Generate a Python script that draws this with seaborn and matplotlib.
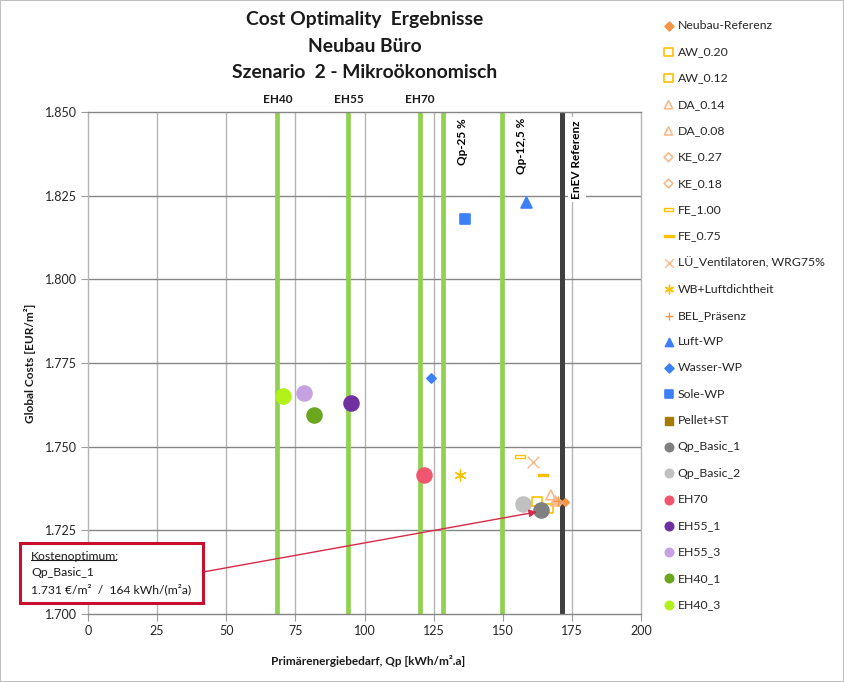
import matplotlib
matplotlib.use("Agg")
import numpy as np
import pandas as pd
import matplotlib.pyplot as plt
import seaborn as sns
from matplotlib.path import Path
from matplotlib.patches import Rectangle
from matplotlib.lines import Line2D
from matplotlib import transforms

# ---------------- data ----------------
series_names = ["Neubau-Referenz", "AW_0.20", "AW_0.12", "DA_0.14", "DA_0.08",
                "KE_0.27", "KE_0.18", "FE_1.00", "FE_0.75", "LÜ_Ventilatoren, WRG75%",
                "WB+Luftdichtheit", "BEL_Präsenz", "Luft-WP", "Wasser-WP", "Sole-WP",
                "Pellet+ST", "Qp_Basic_1", "Qp_Basic_2", "EH70", "EH55_1", "EH55_3",
                "EH40_1", "EH40_3"]
qp_values = [172.5, 162.4, 166.5, 167.4, 169.0, 169.5, 170.3, 156.2, 164.6, 160.9,
             134.7, 170.0, 158.4, 124.0, 136.3, np.nan, 163.8, 157.5, 121.5, 95.1,
             78.1, 81.7, 70.5]
cost_values = [1.7335, 1.7335, 1.7316, 1.7356, 1.7338, 1.7335, 1.7333, 1.7471, 1.7415,
               1.7454, 1.7415, 1.7338, 1.8232, 1.7706, 1.8180, np.nan, 1.7311, 1.7329,
               1.7415, 1.7631, 1.7661, 1.7596, 1.7650]

ref_labels = ["EH40", "EH55", "EH70", "Qp-25 %", "Qp-12,5 %", "EnEV Referenz"]
ref_qp = [68.5, 94.2, 119.9, 128.5, 149.9, 171.3]

x_ticks = [0, 25, 50, 75, 100, 125, 150, 175, 200]
y_ticks = [1.700, 1.725, 1.750, 1.775, 1.800, 1.825, 1.850]

df = pd.DataFrame({"name": series_names, "qp": qp_values, "cost": cost_values})

# ---------------- styles ----------------
def bar_path(h):
    return Path([(-1, -h), (1, -h), (1, h), (-1, h), (-1, -h)],
                [Path.MOVETO, Path.LINETO, Path.LINETO, Path.LINETO, Path.CLOSEPOLY])

bar_marker = bar_path(0.36)
thin_bar = bar_path(0.14)
GOLD = "#FFC000"
PEACH = "#F9B98A"
ORANGE = "#F79646"
BLUE = "#3D7FF7"
styles = {
    "Neubau-Referenz": dict(marker="D", fc=ORANGE, ec=ORANGE, s=14),
    "AW_0.20": dict(marker="s", fc="none", ec=GOLD, s=44),
    "AW_0.12": dict(marker="s", fc="none", ec=GOLD, s=44),
    "DA_0.14": dict(marker="^", fc="none", ec=PEACH, s=50),
    "DA_0.08": dict(marker="^", fc="none", ec=PEACH, s=50),
    "KE_0.27": dict(marker="D", fc="none", ec=PEACH, s=14),
    "KE_0.18": dict(marker="D", fc="none", ec=PEACH, s=14),
    "FE_1.00": dict(marker=bar_marker, fc="none", ec=GOLD, s=55),
    "FE_0.75": dict(marker=thin_bar, fc=GOLD, ec=GOLD, s=55),
    "LÜ_Ventilatoren, WRG75%": dict(marker="x", fc=PEACH, ec=PEACH, s=70),
    "WB+Luftdichtheit": dict(marker=(6, 2, 0), fc=GOLD, ec=GOLD, s=60),
    "BEL_Präsenz": dict(marker="+", fc=ORANGE, ec=ORANGE, s=50),
    "Luft-WP": dict(marker="^", fc=BLUE, ec=BLUE, s=62),
    "Wasser-WP": dict(marker="D", fc=BLUE, ec=BLUE, s=22),
    "Sole-WP": dict(marker="s", fc=BLUE, ec=BLUE, s=52),
    "Pellet+ST": dict(marker="s", fc="#A67C00", ec="#A67C00", s=52),
    "Qp_Basic_1": dict(marker="o", fc="#808080", ec="#808080", s=115),
    "Qp_Basic_2": dict(marker="o", fc="#C0C0C0", ec="#C0C0C0", s=115),
    "EH70": dict(marker="o", fc="#F0566E", ec="#F0566E", s=115),
    "EH55_1": dict(marker="o", fc="#7030A0", ec="#7030A0", s=115),
    "EH55_3": dict(marker="o", fc="#C6A2E2", ec="#C6A2E2", s=115),
    "EH40_1": dict(marker="o", fc="#6AA61E", ec="#6AA61E", s=115),
    "EH40_3": dict(marker="o", fc="#B2F21A", ec="#B2F21A", s=115),
}

# ---------------- figure ----------------
sns.set_theme(style="white")
plt.rcParams["font.family"] = ["Lato", "DejaVu Sans"]

W, H = 844, 682
fig = plt.figure(figsize=(W / 100, H / 100), dpi=100)
fig.patch.set_facecolor("white")
fig.patch.set_edgecolor("#BFBFBF")
fig.patch.set_linewidth(1.2)

L, R, T, B = 88, 641, 112, 614
ax = fig.add_axes([L / W, 1 - B / H, (R - L) / W, (B - T) / H])
ax.set_xlim(0, 200)
ax.set_ylim(1.700, 1.850)
ax.set_xticks(x_ticks)
ax.set_yticks(y_ticks)
ax.set_yticklabels([f"{v:.3f}" for v in y_ticks])
ax.tick_params(axis="both", labelsize=9, labelcolor="#262626", length=5,
               width=0.8, color="#9A9A9A", direction="out", pad=3)
ax.tick_params(axis="y", left=True)
ax.tick_params(axis="x", bottom=True)

# grid
for v in x_ticks[1:-1]:
    ax.axvline(v, color="#B5B5B5", lw=1.0, zorder=0.5)
for v in y_ticks[1:-1]:
    ax.axhline(v, color="#868686", lw=1.0, zorder=0.5)
for side, col in [("left", "#B5B5B5"), ("right", "#B5B5B5"),
                  ("top", "#868686"), ("bottom", "#868686")]:
    ax.spines[side].set_color(col)
    ax.spines[side].set_linewidth(1.0)
    ax.spines[side].set_visible(True)

# reference lines
for lab, xv in zip(ref_labels, ref_qp):
    if lab.startswith("EnEV"):
        ax.axvline(xv, color="#404040", lw=3.6, zorder=1.5)
    else:
        ax.axvline(xv, color="#92D050", lw=3.4, zorder=1.5)

trans = transforms.blended_transform_factory(ax.transData, ax.transAxes)
for lab, xv in zip(ref_labels, ref_qp):
    if lab.startswith("EH"):
        ax.text(xv, 1.024, lab, transform=trans, ha="center", va="center",
                fontsize=8.5, fontweight="bold", color="#1a1a1a")
    elif lab.startswith("Qp"):
        ax.text(xv + 6.9, 0.988, lab, transform=trans, ha="center", va="top",
                rotation=90, fontsize=8.5, fontweight="bold", color="black")
    else:
        ax.text(xv + 5.5, 0.984, lab, transform=trans, ha="center", va="top",
                rotation=90, fontsize=8.5, fontweight="bold", color="black",
                bbox=dict(facecolor="white", edgecolor="none", pad=2.5), zorder=2)

# points
for name in series_names:
    st = styles[name]
    sub = df[df["name"] == name].dropna()
    if sub.empty:
        ax.scatter([], [], marker=st["marker"], facecolor=st["fc"],
                   edgecolor=st["ec"], s=st["s"], label=name)
        continue
    unfilled = st["marker"] in ("x", "+") or isinstance(st["marker"], tuple)
    kw = dict(marker=st["marker"], s=st["s"], label=name, zorder=3, ax=ax)
    if unfilled:
        kw.update(color=st["ec"], linewidth=1.0)
    else:
        is_bar = isinstance(st["marker"], Path)
        kw.update(facecolor=st["fc"], edgecolor=st["ec"],
                  linewidth=1.0 if is_bar else 1.2)
    sns.scatterplot(data=sub, x="qp", y="cost", **kw)

ax.set_xlabel("Primärenergiebedarf, Qp [kWh/m².a]", fontsize=8.5,
              fontweight="bold", color="#1a1a1a")
ax.set_ylabel("Global Costs [EUR/m²]", fontsize=8.5, fontweight="bold",
              color="#1a1a1a")
ax.xaxis.set_label_coords((368 - L) / (R - L), (B - 655) / (B - T))
ax.yaxis.set_label_coords((36 - L) / (R - L), 0.5)

# legend
leg = ax.legend(loc="upper left", bbox_to_anchor=(663 / W, 1 - 20 / H),
                bbox_transform=fig.transFigure, frameon=False, fontsize=8.8,
                labelspacing=1.25, handlelength=0.9, handletextpad=0.3,
                scatterpoints=1, borderaxespad=0, borderpad=0)
for h, name in zip(leg.legend_handles, series_names):
    st = styles[name]
    if st["marker"] == "o":
        s = 36
    elif st["marker"] == "^" or st["marker"] == "s":
        s = 34
    elif st["marker"] == "D":
        s = 20
    elif isinstance(st["marker"], Path):
        s = 48
    else:
        s = 38
    h.set_sizes([s])

# title
for txt, py in [("Cost Optimality  Ergebnisse", 20), ("Neubau Büro", 46),
                ("Szenario  2 - Mikroökonomisch", 73)]:
    fig.text(364.5 / W, 1 - py / H, txt, ha="center", va="center",
             fontsize=13.9, fontweight="bold", color="#1a1a1a")

# annotation box
RED = "#C8102E"
box = Rectangle((20 / W, 1 - 603 / H), 183 / W, 60 / H, transform=fig.transFigure,
                facecolor="white", edgecolor=RED, linewidth=2.2, zorder=5)
fig.add_artist(box)
fig.text(31 / W, 1 - 556 / H, "Kostenoptimum:", ha="left", va="center",
         fontsize=8.7, color="#1a1a1a", zorder=6)
probe = fig.text(31 / W, 1 - 556 / H, "Kostenoptimum", ha="left", va="center",
                 fontsize=8.7, color="#1a1a1a", alpha=0, zorder=6)
fig.text(31 / W, 1 - 572 / H, "Qp_Basic_1", ha="left", va="center",
         fontsize=8.7, color="#1a1a1a", zorder=6)
fig.text(31 / W, 1 - 589 / H, "1.731 €/m²  /  164 kWh/(m²a)", ha="left", va="center",
         fontsize=8.7, color="#1a1a1a", zorder=6)
ax.annotate("", xy=(162.3, 1.7305), xycoords="data",
            xytext=(203 / W, 1 - 572 / H), textcoords="figure fraction",
            arrowprops=dict(arrowstyle="-|>", color="#D6294A", lw=1.0,
                            mutation_scale=11, shrinkA=0, shrinkB=0), zorder=4)

fig.canvas.draw()
bb = probe.get_window_extent()
fig.add_artist(Line2D([bb.x0 / W, bb.x1 / W], [(bb.y0 + 1.5) / H, (bb.y0 + 1.5) / H],
                      transform=fig.transFigure, color="#1a1a1a", lw=0.8, zorder=6))

fig.savefig("out.png", dpi=100)
